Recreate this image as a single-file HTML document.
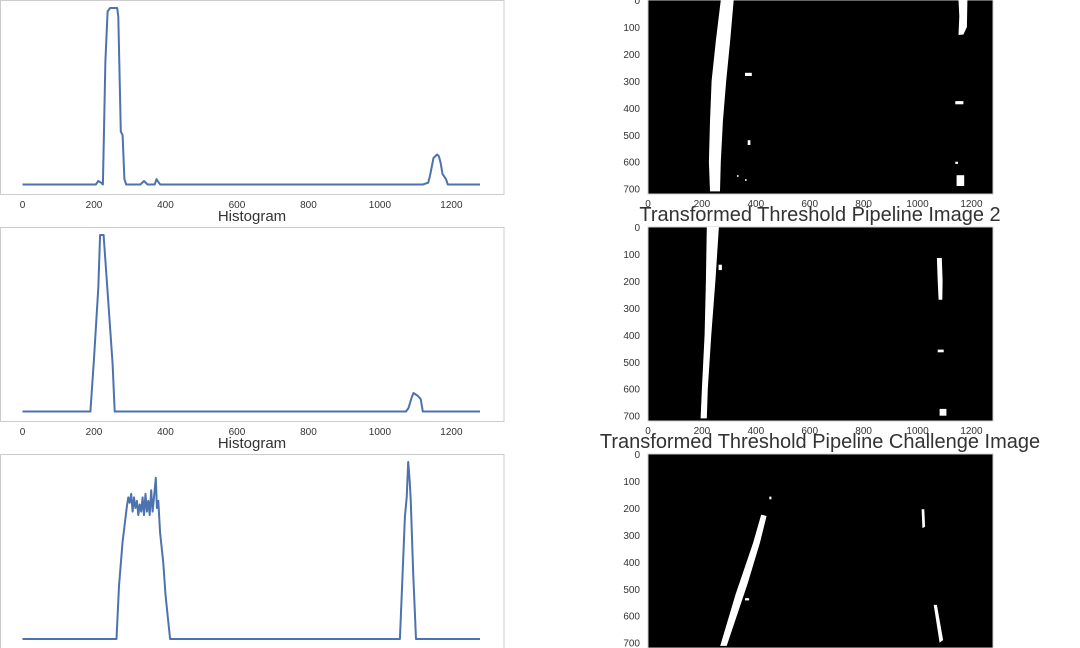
<!DOCTYPE html>
<html><head><meta charset="utf-8"><style>
html,body{margin:0;padding:0;background:#fff;width:1080px;height:648px;overflow:hidden}
svg{display:block}
text{font-family:"Liberation Sans",sans-serif;fill:#333}
</style></head><body>
<svg id="fig" width="1080" height="648"></svg>
<script>
// Histogram data: x positions (pixel columns) and counts (relative)
const xTicks = [0,200,400,600,800,1000,1200];
const yImgTicks = [0,100,200,300,400,500,600,700];
const hist1X = [0,205,212,220,225,232,238,245,265,268,275,280,285,290,330,340,350,370,375,385,1120,1135,1140,1150,1160,1165,1170,1175,1185,1190,1280];
const hist1V = [0,0,2,1,0,70,98,100,100,95,30,28,3,0,0,2,0,0,3,0,0,1,5,15,17,16,12,6,3,0,0];
const hist2X = [0,190,200,212,217,227,240,252,258,1073,1080,1089,1094,1105,1114,1120,1280];
const hist2V = [0,0,30,70,100,100,62,27,0,0,2,8,10.5,9,7,0,0];
const hist3X = [0,263,270,280,292,296,300,304,308,312,316,320,324,328,332,336,340,344,348,352,356,360,364,368,373,376,380,385,394,400,413,1056,1062,1070,1075,1079,1083,1086,1093,1101,1280];
const hist3V = [0,0,30,55,75,80,77,82,72,80,74,78,70,76,72,80,70,82,72,78,70,84,72,80,91,74,78,60,43,25,0,0,30,69,80,100,90,79,37,0,0];

const NS="http://www.w3.org/2000/svg";
const svg=document.getElementById('fig');
function mk(tag,attrs,parent){const e=document.createElementNS(NS,tag);for(const k in attrs)e.setAttribute(k,attrs[k]);(parent||svg).appendChild(e);return e;}
function txt(x,y,s,size,anchor,parent){const t=mk('text',{x:x,y:y,'font-size':size,'text-anchor':anchor||'middle'},parent);t.textContent=s;return t;}

function drawHist(top,bottom,xs,vs,idx){
  const g=mk('g',{});
  
  
  const fr=mk('rect',{x:0.5,y:top+0.5,width:503.5,height:bottom-top,fill:'#fff',stroke:'#ccc','stroke-width':1},g);
  
  
  const x0=22.5, sx=(480-22.5)/1280;
  const base=bottom-9.5, ppu=(base-top-8)/100;
  const xf=v=>x0+v*sx, yf=v=>base-v*ppu;
  let d='';
  for(let i=0;i<xs.length;i++)d+=(i?'L':'M')+xf(xs[i]).toFixed(1)+','+yf(vs[i]).toFixed(1);
  const p=mk('path',{d:d,fill:'none',stroke:'#4c72b0','stroke-width':2,'stroke-linejoin':'round'},g);
  
  
  xTicks.forEach(t=>{const l=txt(xf(t),bottom+14,String(t),10,'middle',g);
    
    });
}
function drawImg(top,idx,shapes,showX){
  const g=mk('g',{});
  
  
  const x0=648, s=345/1280;
  const r=mk('rect',{x:x0,y:top,width:345,height:194,fill:'#000',stroke:'#ccc','stroke-width':1},g);
  
  
  shapes.forEach(sh=>{
    const pts=sh.map(p=>(x0+p[0]*s).toFixed(1)+','+(top+p[1]*s).toFixed(1)).join(' ');
    const pg=mk('polygon',{points:pts,fill:'#fff'},g);
    
    
  });
  yImgTicks.forEach(t=>{const l=txt(640,top+t*s+4,String(t),10,'end',g);
    
    });
  if(showX) xTicks.forEach(t=>{const l=txt(x0+t*s,top+207,String(t),10,'middle',g);
    
    });
}
function blob(x,y,w,h){return [[x,y],[x+w,y],[x+w,y+h],[x,y+h]];}

drawHist(0,194,hist1X,hist1V,1);
drawHist(227,421,hist2X,hist2V,2);
drawHist(454,648.5,hist3X,hist3V,3);

drawImg(0,1,[
  [[270,0],[318,0],[305,150],[290,300],[278,450],[270,600],[267,710],[230,710],[226,600],[230,450],[236,300],[252,150]],
  [[1152,0],[1185,0],[1183,100],[1170,128],[1152,130],[1155,60]],
  blob(360,270,25,12),blob(1140,375,30,12),blob(370,520,10,18),blob(1145,650,28,40),blob(1140,600,10,8),blob(330,650,6,6),blob(360,665,6,6)
],true);
drawImg(227,2,[
  [[218,0],[263,0],[250,200],[235,400],[222,600],[218,710],[195,710],[200,600],[210,400],[215,200]],
  [[1072,115],[1090,115],[1093,200],[1092,270],[1078,270],[1075,200]],
  blob(1075,455,22,10),blob(1082,675,25,25),blob(262,140,12,20)
],true);
drawImg(454,3,[
  [[420,225],[440,230],[415,330],[370,480],[292,712],[268,712],[325,520],[390,330]],
  [[1015,205],[1025,205],[1028,270],[1018,275]],
  [[1060,560],[1072,560],[1095,690],[1082,700]],
  blob(450,158,8,10),blob(360,535,15,8)
],false);

[[252,221,'Histogram',15,'hist-title-1'],[252,448,'Histogram',15,'hist-title-2'],
 [820,221,'Transformed Threshold Pipeline Image 2',20,'image-title-2'],
 [820,448,'Transformed Threshold Pipeline Challenge Image',20,'image-title-3']].forEach(a=>{
  const t=txt(a[0],a[1],a[2],a[3],'middle');
  
  
});
</script>
</body></html>
